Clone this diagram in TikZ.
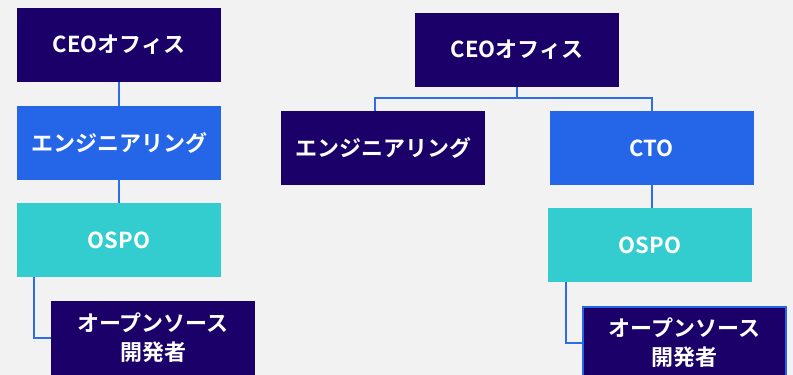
\documentclass[tikz,border=0pt]{standalone}
\usepackage{fontspec}
\setmainfont{Noto Sans CJK JP}[BoldFont={Noto Sans CJK JP Bold}]
\definecolor{bg}{RGB}{242,242,242}
\definecolor{navy}{RGB}{26,0,104}
\definecolor{blu}{RGB}{37,102,232}
\definecolor{teal}{RGB}{51,204,207}
\definecolor{lin}{RGB}{45,110,232}
\tikzset{
  box/.style={minimum width=204pt, minimum height=74pt, inner sep=0pt, outer sep=0pt,
    text=white, font=\bfseries\fontsize{22}{29}\selectfont, align=center},
  dk/.style={box, fill=navy},
  bl/.style={box, fill=blu},
  tl/.style={box, fill=teal},
  conn/.style={draw=lin, line width=2pt}
}
\begin{document}
\begin{tikzpicture}[x=1pt,y=-1pt]
\fill[bg] (0,0) rectangle (793,375);
\useasboundingbox (0,0) rectangle (793,375);
\begin{scope}
\clip (0,0) rectangle (793,375);
% left tree
\node[dk] (lceo) at (119,45) {CEOオフィス};
\node[bl] (leng) at (119,143) {エンジニアリング};
\node[tl] (lospo) at (119,240) {OSPO};
\node[dk] (loss) at (153,338) {オープンソース\\開発者};
\coordinate (lb) at (34,277);
\draw[conn] (lceo.south) -- (leng.north);
\draw[conn] (leng.south) -- (lospo.north);
\draw[conn] (lb) |- (loss.west);
% right tree
\node[dk] (rceo) at (517,50) {CEOオフィス};
\node[dk] (reng) at (383,148) {エンジニアリング};
\node[bl] (rcto) at (651.7,148) {CTO};
\node[tl] (rospo) at (650,245) {OSPO};
\node[dk, draw=blu, line width=2pt, minimum width=203pt, minimum height=73pt] (ross) at (684.5,343) {オープンソース\\開発者};
\coordinate (rj) at (517,98);
\coordinate (rel) at (375,111);
\coordinate (rb) at (566,282);
\draw[conn] (rceo.south) -- (rj);
\draw[conn] (rj) -| (rel);
\draw[conn] (rj) -| (rcto.north);
\draw[conn] (rcto.south) -- (rcto.south |- rospo.north);
\draw[conn] (rb) |- (ross.west);
\end{scope}
\end{tikzpicture}
\end{document}
